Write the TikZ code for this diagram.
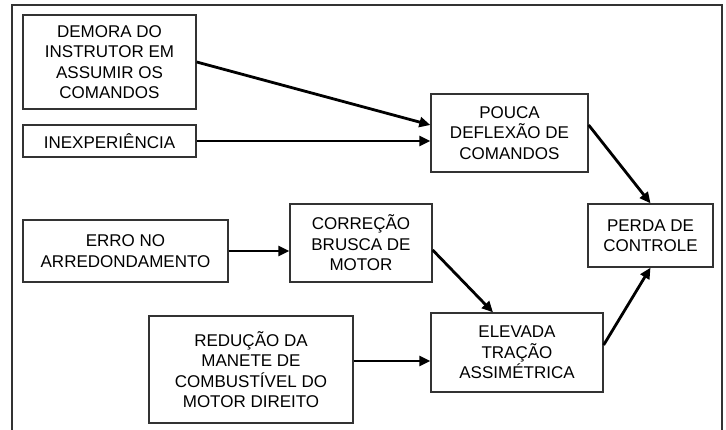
\documentclass[tikz,border=0pt]{standalone}
\usepackage{fontspec}
\setmainfont{Liberation Sans}
\usetikzlibrary{arrows.meta,calc}
\begin{document}
\begin{tikzpicture}[x=1pt,y=-1pt,
  box/.style={draw=black!80, line width=1.3pt, inner sep=0pt, align=center,
    font=\fontsize{17}{20.5}\selectfont},
  conn/.style={line width=2.8pt, -{Triangle[length=11pt,width=10pt]}},
  frame/.style={line width=2.5pt, draw=black!80}]
\useasboundingbox (0,0) rectangle (726,430);
\draw[frame] (12,432) -- (12,5) -- (722,5) -- (722,432);

\node[box, minimum width=173pt, minimum height=94pt] (demora) at (109.5,62)
  {DEMORA DO\\INSTRUTOR EM\\ASSUMIR OS\\COMANDOS};
\node[box, minimum width=173pt, minimum height=32pt] (inex) at (109.5,141)
  {INEXPERIÊNCIA};
\node[box, minimum width=157pt, minimum height=78pt] (pouca) at (509.5,133)
  {POUCA\\DEFLEXÃO DE\\COMANDOS};
\node[box, minimum width=125pt, minimum height=63pt] (perda) at (650.5,235.5)
  {PERDA DE\\CONTROLE};
\node[box, minimum width=205pt, minimum height=62pt] (erro) at (125.5,251)
  {ERRO NO\\ARREDONDAMENTO};
\node[box, minimum width=142pt, minimum height=78pt] (corr) at (361,243)
  {CORREÇÃO\\BRUSCA DE\\MOTOR};
\node[box, minimum width=204pt, minimum height=107pt] (red) at (251,369.5)
  {REDUÇÃO DA\\MANETE DE\\COMBUSTÍVEL DO\\MOTOR DIREITO};
\node[box, minimum width=172pt, minimum height=79pt] (elev) at (517,352.5)
  {ELEVADA\\TRAÇÃO\\ASSIMÉTRICA};

\draw[conn] (demora.east) -- ([yshift=8pt]pouca.west);
\draw[conn] (inex.east) -- (inex.east -| pouca.west);
\draw[conn] ([yshift=8pt]pouca.east) -- (perda.north);
\draw[conn] (erro.east) -- (erro.east -| corr.west);
\draw[conn] ([yshift=-7pt]corr.east) -- ([xshift=-24pt]elev.north);
\coordinate (r1) at ([yshift=8.5pt]red.east);
\draw[conn] (r1) -- (r1 -| elev.west);
\draw[conn] ([yshift=7.5pt]elev.east) -- (perda.south);
\end{tikzpicture}
\end{document}
